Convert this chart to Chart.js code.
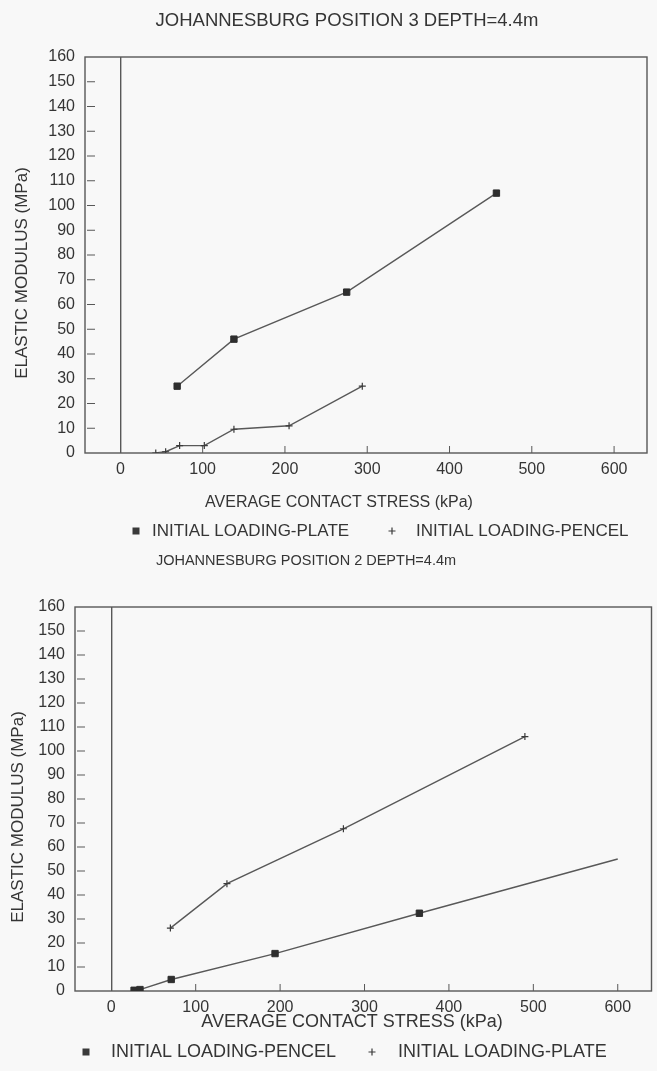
<!DOCTYPE html>
<html lang="en">
<head>
  <meta charset="UTF-8">
  <title>Elastic modulus vs contact stress</title>
  <style>
    body { margin: 0; background: #f8f8f8; }
    .box { position: absolute; left: 0; }
  </style>
</head>
<body>

  <div class="box" style="top:0"><canvas id="pos3" width="657" height="545"></canvas></div>
  <div class="box" style="top:545px"><canvas id="pos2" width="657" height="526"></canvas></div>

  <script src="https://cdn.jsdelivr.net/npm/chart.js"></script>

  <script>
    // axis ticks
    const stressTicks = [0, 100, 200, 300, 400, 500, 600]
    const modulusTicks = [0, 10, 20, 30, 40, 50, 60, 70, 80, 90, 100, 110, 120, 130, 140, 150, 160]

    // position 3
    const pos3PlateX = [69, 138, 275, 457]
    const pos3PlateE = [27, 46, 65, 105]
    const pos3PencelX = [43, 55, 72, 102, 138, 205, 294]
    const pos3PencelE = [0, 0.5, 3, 3, 9.6, 11, 27]

    // position 2
    const pos2PencelX = [27, 34, 71, 194, 365, 600]
    const pos2PencelE = [0.3, 0.6, 4.8, 15.6, 32.4, 55]
    const pos2PlateX = [70, 137, 275, 490]
    const pos2PlateE = [26.2, 44.7, 67.6, 106]

    const ink = '#353535'
    const lineCol = '#585858'
    const font = '"Liberation Sans", Arial, sans-serif'

    function pts (xs, ys) {
      return xs.map((x, i) => ({ x: x, y: ys[i] }))
    }

    function squareSet (label, xs, ys, lastBare) {
      return {
        label: label,
        data: pts(xs, ys),
        showLine: true,
        borderColor: lineCol,
        borderWidth: 1.4,
        pointStyle: 'rect',
        pointRadius: ctx => (lastBare && ctx.dataIndex === xs.length - 1) ? 0 : 4.5,
        pointBackgroundColor: '#2e2e2e',
        pointBorderColor: '#2e2e2e',
        pointBorderWidth: 1
      }
    }

    function crossSet (label, xs, ys) {
      return {
        label: label,
        data: pts(xs, ys),
        showLine: true,
        borderColor: lineCol,
        borderWidth: 1.4,
        pointStyle: 'cross',
        pointRadius: 3.5,
        pointBorderColor: '#3a3a3a',
        pointBorderWidth: 1.2
      }
    }

    // frame, inner tick marks and the text blocks
    const decor = {
      id: 'decor',
      beforeDatasetsDraw (chart) {
        const c = chart.ctx
        const a = chart.chartArea
        const xs = chart.scales.x
        const ys = chart.scales.y
        c.save()
        c.strokeStyle = lineCol
        c.lineWidth = 1.4
        c.strokeRect(a.left, a.top, a.right - a.left, a.bottom - a.top)
        c.lineWidth = 1
        modulusTicks.forEach(v => {
          if (v === 0 || v === 160) return
          const y = ys.getPixelForValue(v)
          c.beginPath(); c.moveTo(a.left + 2, y); c.lineTo(a.left + 10, y); c.stroke()
        })
        stressTicks.forEach(v => {
          if (v === 0) return
          const x = xs.getPixelForValue(v)
          c.beginPath(); c.moveTo(x, a.bottom); c.lineTo(x, a.bottom - 7); c.stroke()
        })
        c.restore()
      },
      afterDraw (chart, args, o) {
        const c = chart.ctx
        const a = chart.chartArea
        c.save()
        c.fillStyle = ink
        c.textBaseline = 'middle'
        c.textAlign = 'center'
        c.font = o.titleSize + 'px ' + font
        c.fillText(o.title, o.titleX, o.titleY)
        c.font = o.xTitleSize + 'px ' + font
        c.fillText('AVERAGE CONTACT STRESS (kPa)', o.xTitleX, o.xTitleY)
        c.save()
        c.translate(o.yTitleX, (a.top + a.bottom) / 2 + 18)
        c.rotate(-Math.PI / 2)
        c.font = '17px ' + font
        c.fillText('ELASTIC MODULUS (MPa)', 0, 0)
        c.restore()
        // legend
        c.textAlign = 'left'
        c.font = o.legendSize + 'px ' + font
        o.legend.forEach(item => {
          const y = o.legendY
          if (item.style === 'rect') {
            c.fillStyle = '#3a3a3a'
            c.fillRect(item.x - 3.5, y - 3.5, 7, 7)
          } else {
            c.strokeStyle = '#3a3a3a'
            c.lineWidth = 1.2
            c.beginPath()
            c.moveTo(item.x - 3.5, y); c.lineTo(item.x + 3.5, y)
            c.moveTo(item.x, y - 3.5); c.lineTo(item.x, y + 3.5)
            c.stroke()
          }
          c.fillStyle = ink
          c.fillText(item.text, item.textX, y)
        })
        c.restore()
      }
    }

    function makeConfig (datasets, pad, yWidth, decorOpts) {
      return {
        type: 'scatter',
        data: { datasets: datasets },
        options: {
          responsive: false,
          animation: false,
          layout: { padding: pad },
          plugins: {
            legend: { display: false },
            tooltip: { enabled: false },
            decor: decorOpts
          },
          scales: {
            x: {
              type: 'linear',
              min: -43,
              max: 640,
              afterBuildTicks: s => { s.ticks = stressTicks.map(v => ({ value: v })) },
              afterFit: s => { s.height = 30 },
              border: { display: false },
              grid: {
                drawTicks: false,
                lineWidth: 1.4,
                color: ctx => ctx.tick && ctx.tick.value === 0 ? lineCol : 'rgba(0,0,0,0)'
              },
              ticks: { color: ink, padding: 7, font: { family: font, size: 16 }, maxRotation: 0 }
            },
            y: {
              min: 0,
              max: 160,
              afterBuildTicks: s => { s.ticks = modulusTicks.map(v => ({ value: v })) },
              afterFit: s => { s.width = yWidth },
              border: { display: false },
              grid: { display: false, drawTicks: false },
              ticks: { color: ink, padding: 10, font: { family: font, size: 16 } }
            }
          }
        },
        plugins: [decor]
      }
    }

    new Chart(document.getElementById('pos3'), makeConfig(
      [
        squareSet('INITIAL LOADING-PLATE', pos3PlateX, pos3PlateE, false),
        crossSet('INITIAL LOADING-PENCEL', pos3PencelX, pos3PencelE)
      ],
      { left: 40, top: 57, right: 10, bottom: 62 },
      45,
      {
        title: 'JOHANNESBURG POSITION 3 DEPTH=4.4m', titleX: 347, titleY: 21, titleSize: 18.5,
        xTitleX: 339, xTitleY: 503, xTitleSize: 16, yTitleX: 22,
        legendY: 531, legendSize: 17,
        legend: [
          { style: 'rect', x: 136, textX: 152, text: 'INITIAL LOADING-PLATE' },
          { style: 'cross', x: 392, textX: 416, text: 'INITIAL LOADING-PENCEL' }
        ]
      }
    ))

    new Chart(document.getElementById('pos2'), makeConfig(
      [
        squareSet('INITIAL LOADING-PENCEL', pos2PencelX, pos2PencelE, true),
        crossSet('INITIAL LOADING-PLATE', pos2PlateX, pos2PlateE)
      ],
      { left: 35, top: 62, right: 5, bottom: 50 },
      40,
      {
        title: 'JOHANNESBURG POSITION 2 DEPTH=4.4m', titleX: 306, titleY: 16, titleSize: 14.5,
        xTitleX: 352, xTitleY: 477, xTitleSize: 18, yTitleX: 18,
        legendY: 507, legendSize: 18,
        legend: [
          { style: 'rect', x: 86, textX: 111, text: 'INITIAL LOADING-PENCEL' },
          { style: 'cross', x: 372, textX: 398, text: 'INITIAL LOADING-PLATE' }
        ]
      }
    ))
  </script>

</body>
</html>
